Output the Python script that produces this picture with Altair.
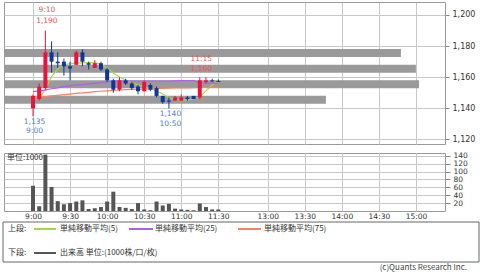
import altair as alt
import pandas as pd

# ---------------- data ----------------
times = ["9:00", "9:05", "9:10", "9:15", "9:20", "9:25", "9:30", "9:35", "9:40", "9:45",
         "9:50", "9:55", "10:00", "10:05", "10:10", "10:15", "10:20", "10:25", "10:30", "10:35",
         "10:40", "10:45", "10:50", "10:55", "11:00", "11:05", "11:10", "11:15", "11:20", "11:25",
         "11:30"]
opens = [1140, 1146, 1153, 1176, 1170, 1170, 1167, 1168, 1176, 1169,
         1166, 1169, 1165, 1158, 1152, 1158, 1156, 1154, 1151, 1155,
         1153, 1148, 1145, 1145, 1145, 1147, 1148, 1147, 1157, 1158,
         1157.6]
highs = [1149, 1156, 1190, 1183, 1176, 1172, 1170, 1177, 1178, 1170,
         1171, 1170, 1166, 1159, 1160, 1159, 1157, 1155, 1158, 1156,
         1154, 1148, 1147, 1148, 1149, 1148, 1148, 1160, 1160, 1159,
         1158.5]
lows = [1135, 1145, 1152, 1163, 1166, 1161, 1158, 1168, 1167, 1165,
        1166, 1164, 1157, 1150, 1151, 1155, 1152, 1149, 1151, 1151,
        1147, 1143, 1140, 1145, 1145, 1145, 1146, 1146, 1156, 1157,
        1157]
closes = [1148, 1154, 1176, 1170, 1169, 1167, 1165.6, 1176, 1170, 1168,
          1169, 1165, 1158, 1152, 1158, 1156, 1153, 1151, 1157, 1152,
          1148, 1144, 1144.3, 1147, 1147, 1146, 1146, 1158, 1158, 1157.4,
          1157]
volumes = [64, 12, 143, 61, 25, 17, 20, 24, 27, 5,
           7, 10, 24, 49, 10, 8, 5, 20, 4, 2,
           24, 14, 18, 6, 4, 3, 2, 19, 10, 4,
           4]
ma5 = [None, 1146.0, 1152.4, 1160.5, 1165.3, 1167.9, 1168.8, 1169.2, 1169.2, 1169.5,
       1169.2, 1168.5, 1166.0, 1162.7, 1160.2, 1158.2, 1156.3, 1155.0, 1153.7, 1152.8,
       1151.2, 1149.2, 1147.0, 1145.7, 1145.4, 1145.4, 1146.0, 1147.3, 1151.2, 1155.0,
       1157.3]
ma25 = [1150.7, 1151.2, 1151.7, 1152.6, 1153.2, 1154.0, 1154.6, 1155.0, 1155.3, 1155.7,
        1156.1, 1156.5, 1157.1, 1157.6, 1157.6, 1157.6, 1157.6, 1157.6, 1157.6, 1157.6,
        1157.6, 1157.6, 1157.6, 1157.7, 1157.8, 1157.9, 1157.9, 1156.6, 1156.3, 1156.2,
        1156.1]
ma75 = [1146.9, 1147.2, 1147.6, 1148.0, 1148.4, 1148.8, 1149.2, 1149.6, 1149.9, 1150.3,
        1150.7, 1151.0, 1151.3, 1151.5, 1151.8, 1152.0, 1152.2, 1152.3, 1152.4, 1152.6,
        1152.7, 1152.8, 1153.0, 1153.1, 1153.2, 1153.2, 1153.3, 1153.4, 1153.5, 1153.6,
        1153.7]

# volume-by-price bands (centre price, relative volume)
band_prices = [1175.5, 1165.5, 1155.5, 1145.5]
band_volumes = [90.0, 93.4, 94.1, 73.0]

tick_times = ["9:00", "9:30", "10:00", "10:30", "11:00", "11:30",
              "13:00", "13:30", "14:00", "14:30", "15:00"]
price_ticks = [1120, 1140, 1160, 1180, 1200]
vol_ticks = [20, 40, 60, 80, 100, 120, 140]

# annotations: time, price, first line, second line, kind
ann_time = ["9:10", "9:00", "10:50", "11:15"]
ann_price = [1190, 1135, 1140, 1160]
ann_kind = ["high", "low", "low", "high"]
ann_line1 = ["9:10", "1,135", "1,140", "11:15"]
ann_line2 = ["1,190", "9:00", "10:50", "1,160"]

legend_labels = ["単純移動平均(5)", "単純移動平均(25)", "単純移動平均(75)"]
volume_label = "出来高 単位:(1000株/口/枚)"

# ---------------- helpers ----------------
def slot_of(t):
    h, m = map(int, t.split(":"))
    mins = h * 60 + m
    if mins <= 690:
        return (mins - 540) / 5
    return (mins - 750) / 5 + 32

UP, DOWN = "#f0103c", "#10369a"
C5, C25, C75 = "#a8d840", "#b05cf8", "#ff8060"
FONT = "Noto Sans CJK JP"
NUMFONT = "DejaVu Sans"

tick_slots = [slot_of(t) for t in tick_times]

candles = pd.DataFrame({
    "slot": [slot_of(t) for t in times],
    "open": opens, "high": highs, "low": lows, "close": closes,
    "dir": ["up" if c > o else "down" for o, c in zip(opens, closes)],
    "vol": volumes,
})

ma_rows = []
for name, arr in (("ma5", ma5), ("ma25", ma25), ("ma75", ma75)):
    for t, v in zip(times, arr):
        if v is not None:
            ma_rows.append({"slot": slot_of(t), "ma": v, "dir": name})
ma_df = pd.DataFrame(ma_rows)

vbp_df = pd.DataFrame({"bprice": band_prices, "bvol": band_volumes})

x_scale = alt.Scale(domain=[-4.7, 66.7], nice=False, zero=False, padding=0)
y_up = alt.Scale(domain=[1117.1, 1208.35], nice=False, zero=False, padding=0)
ax_up = alt.Axis(values=price_ticks, orient="right", labelExpr="format(datum.value, ',.0f')",
                 title=None, tickSize=4, labelPadding=3, labelFontSize=8, labelFont=NUMFONT,
                 grid=True, domain=False)
x_ax_up = alt.Axis(values=tick_slots, labels=False, ticks=False, domain=False,
                   grid=True, title=None)

color_all = alt.Color("dir:N", scale=alt.Scale(domain=["up", "down", "ma5", "ma25", "ma75"],
                                               range=[UP, DOWN, C5, C25, C75]), legend=None)

vbp = alt.Chart(vbp_df).mark_bar(orient="horizontal", size=8, color="#9a9a9a").encode(
    x=alt.X("bvol:Q", scale=alt.Scale(domain=[0, 100], nice=False, padding=0), axis=None),
    y=alt.Y("bprice:Q", scale=y_up, axis=ax_up),
)

lines = alt.Chart(ma_df).mark_line(strokeWidth=1.2).encode(
    x=alt.X("slot:Q", scale=x_scale, axis=x_ax_up),
    y=alt.Y("ma:Q", scale=y_up, axis=ax_up),
    color=color_all,
    detail="dir:N",
)

wicks = alt.Chart(candles).mark_rule(strokeWidth=1).encode(
    x=alt.X("slot:Q", scale=x_scale, axis=x_ax_up),
    y=alt.Y("low:Q", scale=y_up, axis=ax_up),
    y2="high:Q",
    color=color_all,
)

bodies = alt.Chart(candles).mark_bar(size=4).encode(
    x=alt.X("slot:Q", scale=x_scale, axis=x_ax_up),
    y=alt.Y("open:Q", scale=y_up, axis=ax_up),
    y2="close:Q",
    color=color_all,
)

texts = []
for t, p, k, l1, l2 in zip(ann_time, ann_price, ann_kind, ann_line1, ann_line2):
    col = "#e05858" if k == "high" else "#4c7ee0"
    if k == "high":
        d1, d2 = (-21, -10) if p > 1180 else (-18, -8.7)
    else:
        d1, d2 = 6, 15.3
    df = pd.DataFrame({"slot": [slot_of(t)], "price": [p], "l1": [l1], "l2": [l2]})
    for field, dy in (("l1", d1), ("l2", d2)):
        texts.append(
            alt.Chart(df).mark_text(fontSize=7.5, font=NUMFONT, color=col, dy=dy, dx=1.5,
                                    baseline="middle", align="center").encode(
                x=alt.X("slot:Q", scale=x_scale, axis=x_ax_up),
                y=alt.Y("price:Q", scale=y_up, axis=ax_up),
                text=f"{field}:N",
            )
        )

inner = alt.layer(lines, wicks, bodies, *texts)
upper = alt.layer(vbp, inner).resolve_scale(x="independent").properties(width=441, height=142)

# ---------------- lower panel ----------------
label_expr = ("[" + ",".join(f"'{l}'" for l in tick_times) + "][indexof(["
              + ",".join(str(s) for s in tick_slots) + "], datum.value)]")

vol_bars = alt.Chart(candles).mark_bar(size=4, color="#555555").encode(
    x=alt.X("slot:Q", scale=x_scale,
            axis=alt.Axis(values=tick_slots, labelExpr=label_expr, ticks=False, domain=False,
                          grid=True, title=None, labelPadding=1, labelFontSize=7.5,
                          labelFont=NUMFONT)),
    y=alt.Y("vol:Q", scale=alt.Scale(domain=[0, 147], nice=False, padding=0),
            axis=alt.Axis(values=vol_ticks, orient="right", title=None, tickSize=5,
                          labelPadding=3, labelFontSize=7.5, labelFont=NUMFONT,
                          grid=True, domain=False)),
)

one = pd.DataFrame({"k": [0]})

def txt(s, x, y, size=8, align="left", color="#333"):
    return alt.Chart(one).mark_text(fontSize=size, font=FONT, align=align, baseline="middle",
                                    color=color).encode(
        x=alt.value(x), y=alt.value(y), text=alt.value(s))

def seg(x1, x2, y, color):
    return alt.Chart(one).mark_rule(strokeWidth=2, color=color).encode(
        x=alt.value(x1), x2=alt.value(x2), y=alt.value(y))

unit_txt = txt("単位:1000", 3, 5, size=8)
box = alt.Chart(one).mark_rect(fill="white", stroke="#666", strokeWidth=1).encode(
    x=alt.value(-1), x2=alt.value(475), y=alt.value(69), y2=alt.value(109))

legend_layers = [
    box,
    txt("上段:", 4, 76), seg(30, 52, 76, C5), txt(legend_labels[0], 56, 76),
    seg(125, 149, 76, C25), txt(legend_labels[1], 151, 76),
    seg(234, 257, 76, C75), txt(legend_labels[2], 260, 76),
    txt("下段:", 4, 100), seg(30, 52, 100, "#555"), txt(volume_label, 56, 100),
    txt("(c)Quants Research Inc.", 463, 115, size=8, align="right", color="#444"),
]

lower = alt.layer(vol_bars, unit_txt, *legend_layers).properties(width=441, height=58)

chart = alt.vconcat(upper, lower, spacing=6).properties(
    padding={"left": 2, "top": 1, "right": 0, "bottom": 1},
    background="white",
).configure_view(stroke="#999", strokeWidth=1).configure_axis(
    gridColor="#c8c8c8", tickColor="#888", labelColor="#333"
)

chart.save("out.html", embed_options={"renderer": "svg", "actions": False})
